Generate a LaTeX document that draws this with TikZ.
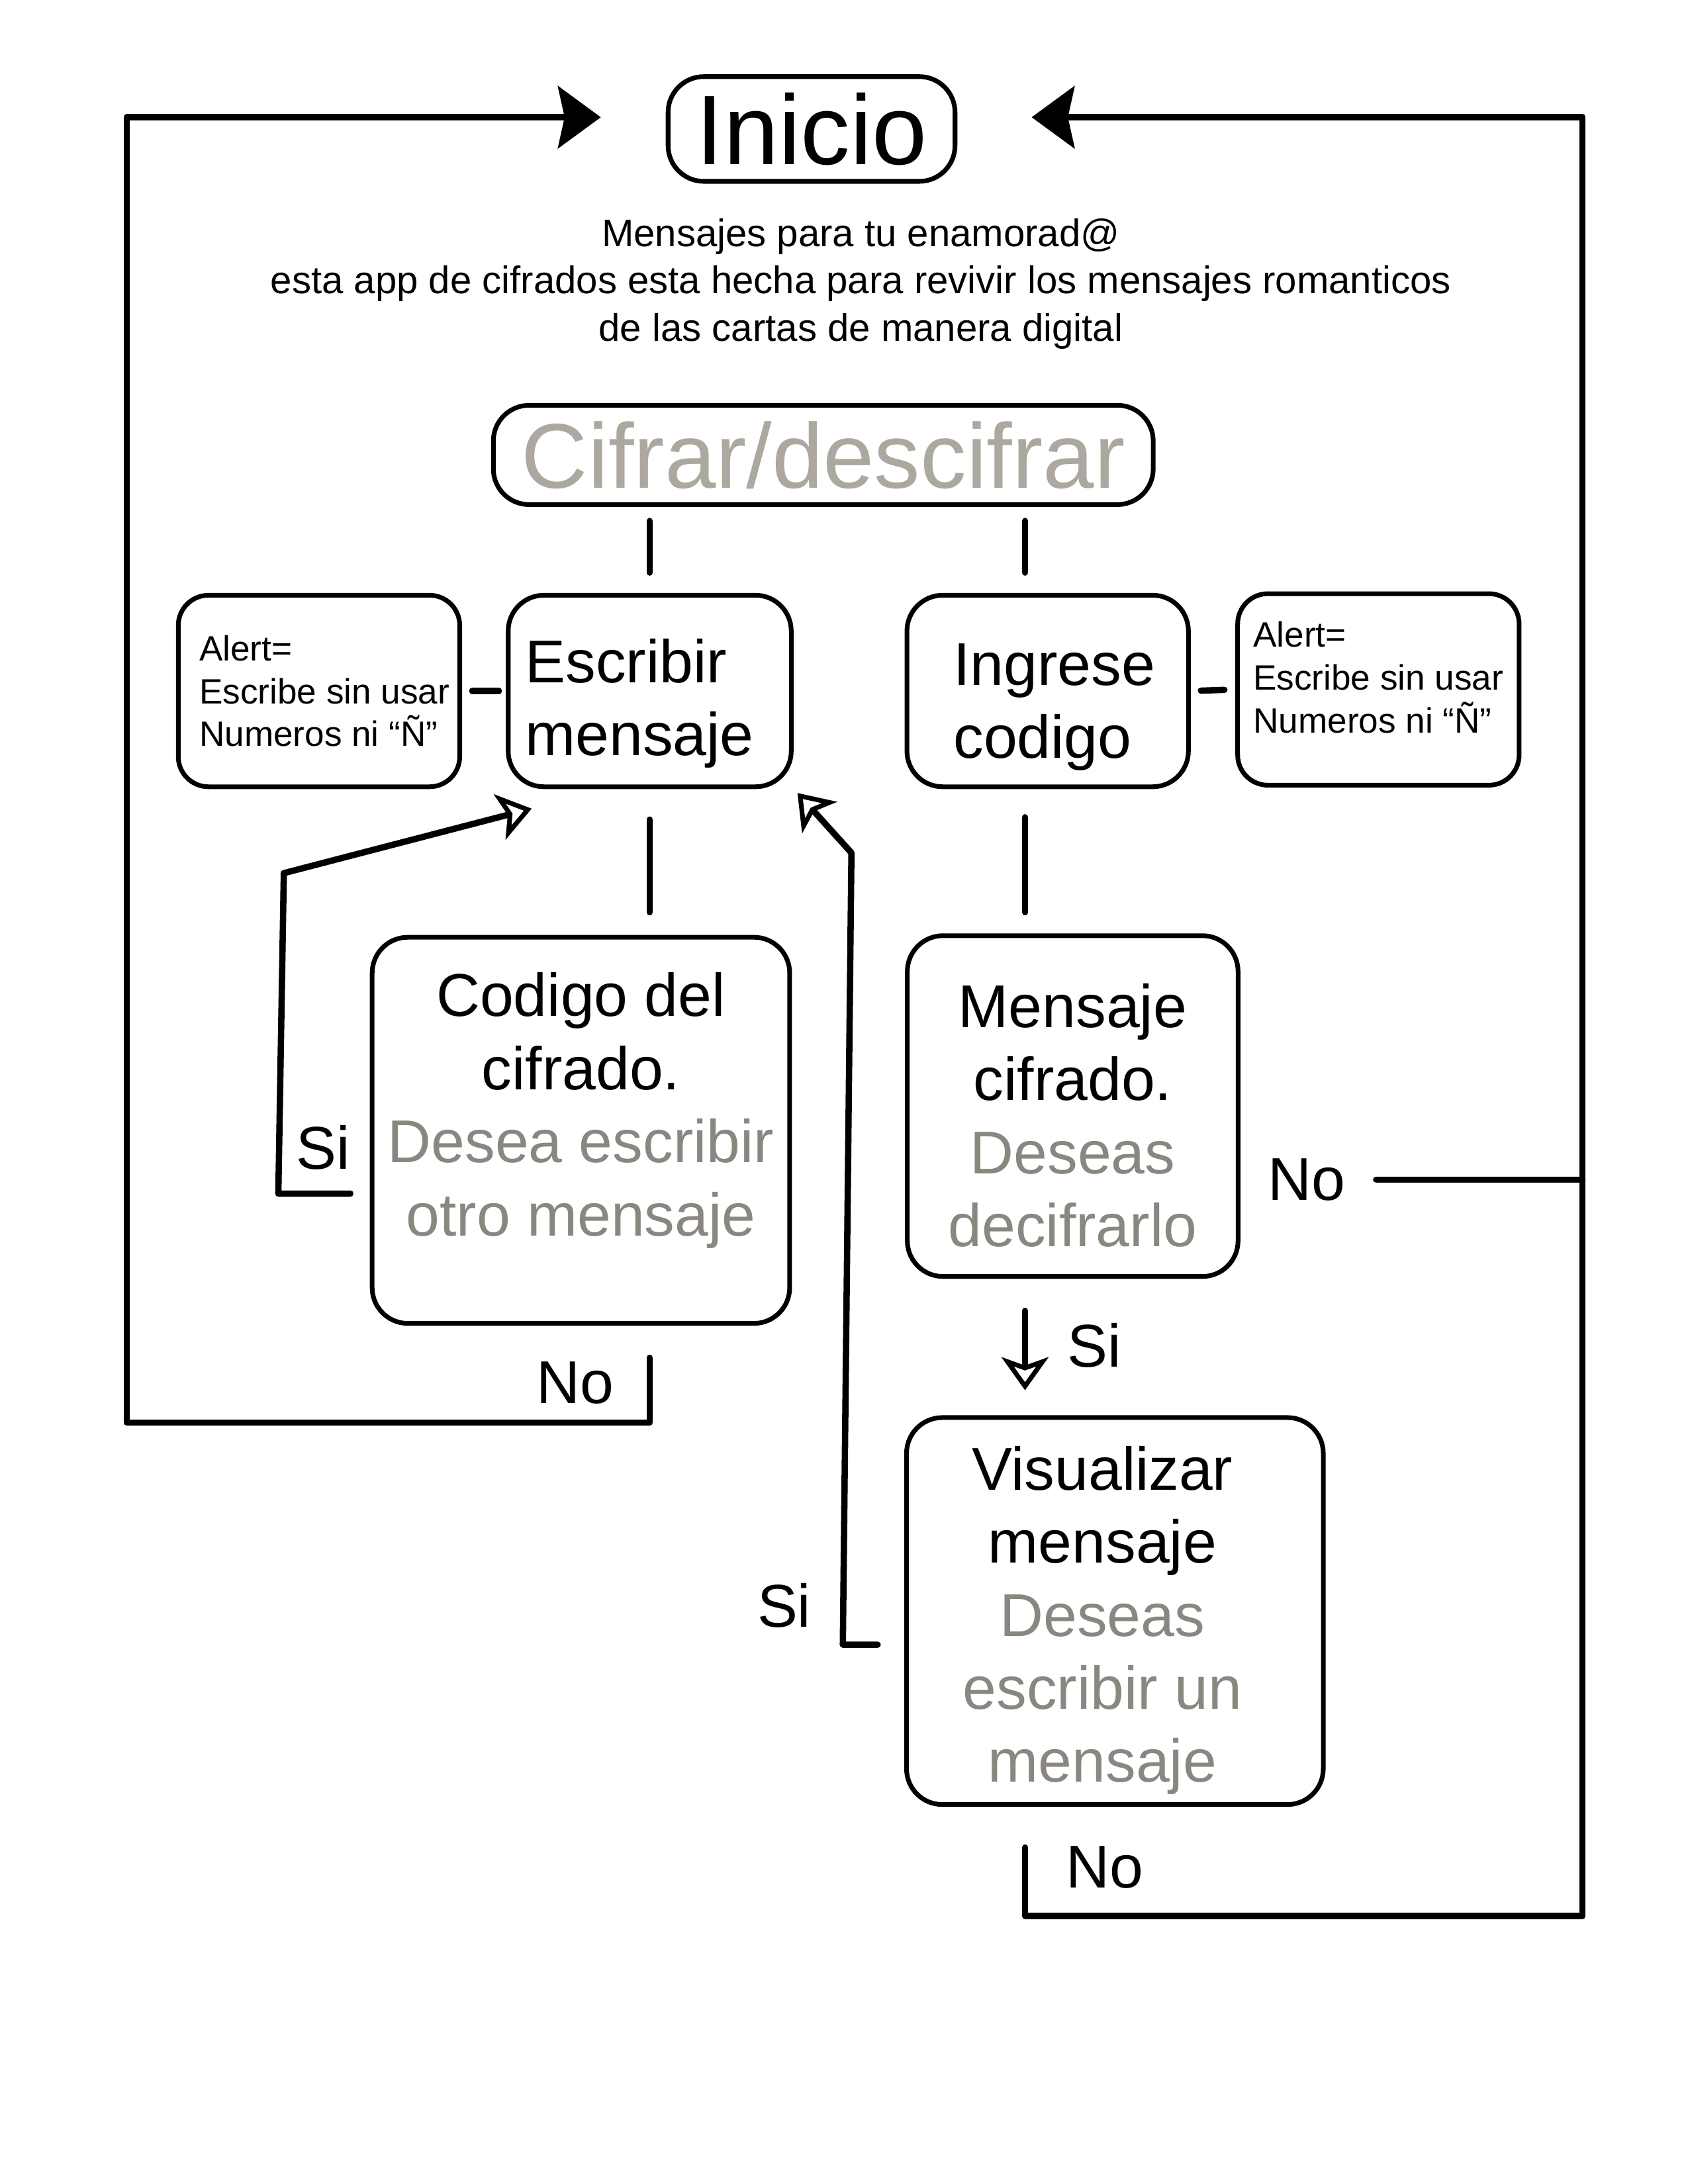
\documentclass[tikz,border=0pt]{standalone}
\usepackage{fontspec}
\setmainfont{Liberation Sans}
\usetikzlibrary{arrows.meta}
\definecolor{grisclaro}{HTML}{ACA89F}
\definecolor{gris}{HTML}{8A8680}

\begin{document}
\begin{tikzpicture}[line cap=round, line join=round,
            box/.style={draw,line width=1.7pt,rounded corners=13pt,align=center,inner sep=0pt,font=\fontsize{22}{26.6}\selectfont},
            alert/.style={box,rounded corners=11pt,align=left,minimum width=3.6cm,minimum height=2.45cm,font=\fontsize{12.8}{15.6}\selectfont},
            lbl/.style={inner sep=0pt,font=\fontsize{22}{26}\selectfont},
            hueco/.style={-{Stealth[open,length=12pt,width=17pt,inset=3pt,line width=1.7pt]}}]
                \useasboundingbox (0,0) rectangle (21.59,-27.94);

                \node[box,minimum width=3.67cm,minimum height=1.34cm,font=\fontsize{36}{40}\selectfont](inicio) at (10.38,-1.65) {Inicio};
                \node[align=center,font=\fontsize{14}{17.2}\selectfont](desc) at (11.01,-3.63) {Mensajes para tu enamorad@\\esta app de cifrados esta hecha para revivir los mensajes romanticos\\de las cartas de manera digital};
                \node[box,minimum width=8.44cm,minimum height=1.27cm,text=grisclaro,font=\fontsize{33.5}{38}\selectfont](cifrar) at (10.53,-5.82) {Cifrar/descifrar};

                \node[alert](alertL) at (4.08,-8.84) {\makebox[0.14cm]{}Alert=\\\makebox[0.14cm]{}Escribe sin usar\\\makebox[0.14cm]{}Numeros ni “Ñ”};
                \node[box,minimum width=3.62cm,minimum height=2.45cm,align=left,text height=51.5pt](escribir) at (8.31,-8.84) {Escribir\\mensaje\makebox[0.26cm]{}};
                \node[box,minimum width=3.6cm,minimum height=2.45cm,align=left,text height=53.5pt](ingrese) at (13.40,-8.84) {\makebox[0.17cm]{}Ingrese\\\makebox[0.17cm]{}codigo};
                \node[alert,text depth=9pt](alertR) at (17.63,-8.82) {Alert=\\Escribe sin usar\\Numeros ni “Ñ”};

                \node[box,minimum width=5.34cm,minimum height=4.94cm,text depth=19pt](codigo) at (7.43,-14.46) {Codigo del\\cifrado.\\\textcolor{gris}{Desea escribir}\\\textcolor{gris}{otro mensaje}};
                \node[box,minimum width=4.23cm,minimum height=4.36cm,text height=102.5pt](cifrado) at (13.72,-14.15) {Mensaje\\cifrado.\\\textcolor{gris}{Deseas}\\\textcolor{gris}{decifrarlo}};
                \node[box,minimum width=5.33cm,minimum height=4.95cm,text height=129.2pt](visual) at (14.26,-20.61) {Visualizar\makebox[0.32cm]{}\\mensaje\makebox[0.32cm]{}\\\textcolor{gris}{Deseas}\makebox[0.32cm]{}\\\textcolor{gris}{escribir un}\makebox[0.32cm]{}\\\textcolor{gris}{mensaje}\makebox[0.32cm]{}};

                \node[lbl](si1) at (4.13,-14.68) {Si};
                \node[lbl](no1) at (7.36,-17.69) {No};
                \node[lbl](no2) at (16.71,-15.09) {No};
                \node[lbl](si2) at (14.00,-17.21) {Si};
                \node[lbl](si3) at (10.03,-20.54) {Si};
                \node[lbl](no3) at (14.13,-23.89) {No};

                \coordinate (colR) at (13.11,0);
                \coordinate (cL) at (1.62,-18.20);
                \coordinate (cR) at (20.24,-24.51);
                \coordinate (s1a) at (3.56,-15.27);
                \coordinate (s1b) at (3.63,-11.17);
                \coordinate (s2a) at (10.78,-21.04);
                \coordinate (s2b) at (10.89,-10.91);

            \begin{scope}[line width=2.3pt]
                \draw[shorten <=0.18cm,shorten >=0.26cm](escribir.north |- cifrar.south)--(escribir.north);
                \draw[shorten <=0.18cm,shorten >=0.26cm](cifrar.south -| colR)--(ingrese.north -| colR);
                \draw[shorten <=0.13cm,shorten >=0.09cm](alertL.east)--(escribir.west);
                \draw[shorten <=0.13cm,shorten >=0.14cm](ingrese.east)--(alertR.west);
                \draw[shorten <=0.39cm,shorten >=0.29cm](escribir.south)--(escribir.south |- codigo.north);
                \draw[shorten <=0.36cm,shorten >=0.27cm](ingrese.south -| colR)--(cifrado.north -| colR);
                \draw[shorten <=0.39cm](no2.east)--(no2 -| cR);

                \draw[hueco,shorten <=0.41cm,shorten >=0.32cm](cifrado.south -| colR)--(visual.north -| colR);
                \draw[hueco]([xshift=-0.25cm,yshift=-0.81cm]codigo.west)--(s1a)--(s1b)--([xshift=0.33cm,yshift=-0.25cm]escribir.south west);
                \draw[hueco]([xshift=-0.34cm,yshift=-0.43cm]visual.west)--(s2a)--(s2b)--([xshift=0.05cm,yshift=-0.05cm]escribir.south east);
            \end{scope}

            \begin{scope}[line width=2.3pt,-{Stealth[length=15.6pt,width=22.6pt,inset=2.4pt]}]
                \draw[shorten <=0.41cm](codigo.south -| escribir.south) |- (cL) |- ([xshift=-0.83cm,yshift=0.15cm]inicio.west);
                \draw[shorten <=0.52cm](visual.south -| colR) |- (cR) |- ([xshift=0.95cm,yshift=0.15cm]inicio.east);
            \end{scope}
        \end{tikzpicture}
\end{document}
